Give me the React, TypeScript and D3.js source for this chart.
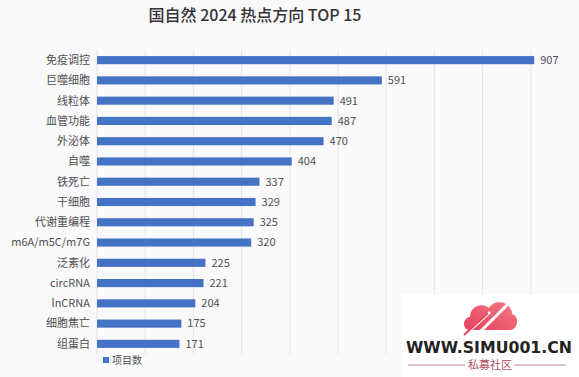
import React from "react";
import * as d3 from "d3";

const categories = ["免疫调控", "巨噬细胞", "线粒体", "血管功能", "外泌体", "自噬", "铁死亡", "干细胞", "代谢重编程", "m6A/m5C/m7G", "泛素化", "circRNA", "lnCRNA", "细胞焦亡", "组蛋白"];
const values = [907, 591, 491, 487, 470, 404, 337, 329, 325, 320, 225, 221, 204, 175, 171];
const gridTicks = [0, 100, 200, 300, 400, 500, 600, 700, 800, 900];
const title = "国自然 2024 热点方向 TOP 15";
const legendLabel = "项目数";

const W = 579, H = 377;
const FONT = "'Noto Sans CJK SC', 'Noto Sans', sans-serif";

export default function App() {
  const x = d3.scaleLinear().domain([0, 1000]).range([97, 579]);
  const y = d3.scaleBand().domain(categories).range([50, 354]).paddingInner(0.6).paddingOuter(0.3);
  const bw = y.bandwidth();
  return (
    <svg width={W} height={H} style={{ position: "absolute", left: 0, top: 0, background: "#faf9fc" }} fontFamily={FONT}>
      <rect x={0} y={0} width={W} height={H} fill="#faf9fc" />
      <text x={255} y={21} textAnchor="middle" fontSize={16} fontWeight={500} fill="#333">{title}</text>
      {gridTicks.map(t => (
        <line key={t} x1={x(t)} x2={x(t)} y1={50} y2={354} stroke="#e4e4e8" strokeWidth={1} />
      ))}
      {categories.map((c, i) => (
        <g key={c}>
          <rect x={x(0)} y={y(c)!} width={x(values[i]) - x(0)} height={bw} fill="#4472c4" />
          <text x={90} y={y(c)! + bw / 2} dy="0.35em" textAnchor="end" fontSize={11} fill="#505050">{c}</text>
          <text x={x(values[i]) + 6} y={y(c)! + bw / 2} dy="0.35em" fontSize={11} fill="#505050">{values[i]}</text>
        </g>
      ))}
      <rect x={103} y={357} width={6} height={6} fill="#4472c4" />
      <text x={112} y={360} dy="0.35em" fontSize={10} fill="#505050">{legendLabel}</text>
      <g>
        <defs>
          <linearGradient id="cloudg" x1="0" y1="1" x2="1" y2="0">
            <stop offset="0" stopColor="#e8405a" />
            <stop offset="1" stopColor="#f27a86" />
          </linearGradient>
        </defs>
        <rect x={401} y={294} width={178} height={83} fill="#ffffff" />
        <path d="M470 330 C462 330 462 318 470 317 C470 306 482 302 489 308 C495 298 512 302 512 314 C520 316 518 330 510 330 Z" fill="url(#cloudg)" />
        <path d="M466 334 L490 312 M478 334 L508 304" stroke="#ffffff" strokeWidth={3} />
        <path d="M464 335 L488 313" stroke="#e8405a" strokeWidth={2} />
        <text x={406} y={353} fontSize={15} fontWeight={700} fill="#222" fontFamily="'DejaVu Sans', sans-serif" textLength={166} lengthAdjust="spacingAndGlyphs">WWW.SIMU001.CN</text>
        <line x1={408} x2={465} y1={365} y2={365} stroke="#c98a93" strokeWidth={1} />
        <line x1={514} x2={566} y1={365} y2={365} stroke="#c98a93" strokeWidth={1} />
        <text x={490} y={369} textAnchor="middle" fontSize={11} fill="#b0505e">私募社区</text>
      </g>
    </svg>
  );
}
